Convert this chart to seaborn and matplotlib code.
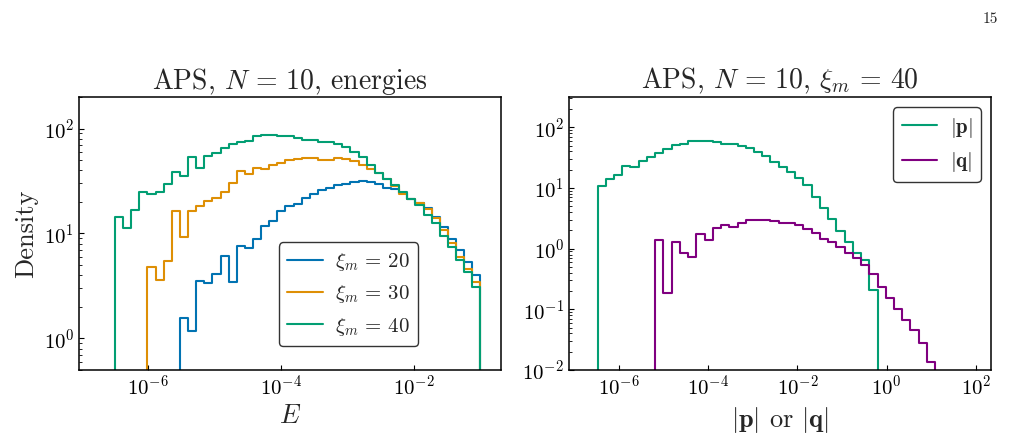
import numpy as np
import pandas as pd
import matplotlib
matplotlib.use("Agg")
import matplotlib.pyplot as plt
import seaborn as sns
from matplotlib.ticker import NullLocator, LogLocator

# ---------------- data ----------------
# Left panel: energy histograms, shared log10 bins
E_LOG_START = -6.49
E_LOG_WIDTH = 0.122
E_NBINS = 45

xi20_first = 8
xi20 = [1.56, 1.18, 3.54, 3.36, 4.1, 6.12, 3.46, 7.62, 7.24, 8.83, 11.7, 13.1,
        16.3, 18.1, 19.0, 22.0, 23.7, 26.0, 27.4, 28.8, 29.9, 31.0, 31.5, 31.0,
        29.9, 27.4, 26.4, 24.2, 21.5, 19.5, 17.5, 14.5, 11.5, 8.8, 7.0, 5.4, 4.0]

xi30_first = 4
xi30 = [4.75, 3.59, 5.41, 16.3, 9.29, 16.3, 18.3, 20.5, 22.0, 24.9, 30.6, 39.5,
        37.0, 41.9, 41.6, 45.4, 46.7, 49.9, 51.4, 52.1, 52.0, 50.7, 50.7, 52.0,
        51.0, 48.8, 45.4, 41.0, 37.5, 32.9, 28.4, 24.0, 21.2, 19.4, 17.3, 13.9,
        10.8, 8.1, 6.0, 4.57, 3.46]

xi40_first = 0
xi40 = [14.5, 11.2, 16.7, 25.1, 23.7, 25.1, 29.5, 38.4, 35.4, 54.1, 41.9, 54.8,
        59.0, 64.9, 71.9, 74.5, 76.9, 85.8, 87.7, 86.9, 85.1, 84.5, 81.3, 78.0,
        78.0, 75.0, 74.0, 71.0, 66.0, 60.0, 53.0, 45.0, 38.0, 33.0, 29.0, 25.0,
        21.5, 18.5, 15.0, 12.5, 9.5, 7.4, 5.6, 4.3, 3.06]

energy_labels = [r"$\xi_m \,=\, 20$", r"$\xi_m \,=\, 30$", r"$\xi_m \,=\, 40$"]

# Right panel: |p| and |q| histograms, shared log10 bins
P_LOG_START = -6.48
P_LOG_WIDTH = 0.1846
P_NBINS = 41

p_first = 0
p_vals = [10.7, 14.3, 16.5, 22.8, 22.0, 28.3, 32.1, 38.4, 44.7, 51.3, 54.0, 60.4,
          60.4, 58.9, 56.6, 54.0, 52.5, 50.0, 45.2, 39.4, 33.4, 27.3, 22.5, 18.3,
          14.7, 11.0, 7.2, 4.72, 3.03, 1.95, 1.28, 0.86, 0.64, 0.208]

q_first = 7
q_vals = [1.39, 0.184, 1.30, 0.86, 0.73, 1.72, 1.39, 2.16, 2.42, 2.27, 2.61, 2.95,
          2.95, 2.95, 2.84, 2.68, 2.61, 2.42, 2.08, 1.79, 1.46, 1.28, 1.06, 0.86,
          0.71, 0.54, 0.378, 0.237, 0.152, 0.100, 0.067, 0.046, 0.028, 0.0133]

pq_labels = [r"$|\mathbf{p}|$", r"$|\mathbf{q}|$"]

left_title = r"APS, $N \,=\, 10$, energies"
right_title = r"APS, $N \,=\, 10$, $\xi_m \,=\, 40$"

left_xticks = [1e-6, 1e-4, 1e-2]
right_xticks = [1e-6, 1e-4, 1e-2, 1e0, 1e2]

# ---------------- style ----------------
sns.set_style("ticks")
plt.rcParams.update({
    "font.family": ["cmr10", "DejaVu Serif"],
    "mathtext.fontset": "cm",
    "axes.formatter.use_mathtext": True,
    "axes.edgecolor": "black",
    "axes.linewidth": 1.1,
    "xtick.direction": "in",
    "ytick.direction": "in",
    "xtick.major.size": 3.5,
    "ytick.major.size": 3.5,
    "xtick.minor.size": 2,
    "ytick.minor.size": 2,
    "xtick.color": "black",
    "ytick.color": "black",
    "xtick.labelsize": 15,
    "ytick.labelsize": 15,
})

cb = sns.color_palette("colorblind")
c_blue, c_orange, c_green = cb[0], cb[1], cb[2]
c_purple = "purple"


def draw(ax, first, values, log_start, log_width, nbins, color, label):
    idx = np.arange(first, first + len(values))
    centers = 10 ** (log_start + log_width * (idx + 0.5))
    edges_log = (log_start + log_width * np.arange(-1, nbins + 2)).tolist()
    df = pd.DataFrame({"x": centers, "w": values})
    sns.histplot(data=df, x="x", weights="w", bins=edges_log, element="step",
                 fill=False, log_scale=True, color=color, linewidth=1.5,
                 label=label, ax=ax)


fig = plt.figure(figsize=(10.13, 4.44), dpi=100)
axL = fig.add_axes([0.0780, 0.1667, 0.4166, 0.6149])
axR = fig.add_axes([0.5617, 0.1667, 0.4166, 0.6149])

# Left panel
for first, vals, col, lab in [(xi20_first, xi20, c_blue, energy_labels[0]),
                              (xi30_first, xi30, c_orange, energy_labels[1]),
                              (xi40_first, xi40, c_green, energy_labels[2])]:
    draw(axL, first, vals, E_LOG_START, E_LOG_WIDTH, E_NBINS, col, lab)
axL.set_yscale("log")
axL.set_xlim(10 ** -7.03, 10 ** -0.69)
axL.set_ylim(0.5, 200)
axL.set_xticks(left_xticks)
axL.xaxis.set_minor_locator(NullLocator())
axL.set_xlabel(r"$E$", fontsize=19)
axL.set_ylabel("Density", fontsize=19)
axL.set_title(left_title, fontsize=20)
axL.legend(loc="lower right", bbox_to_anchor=(0.804, 0.088), borderaxespad=0,
           fontsize=15, handlelength=1.7, handletextpad=0.6,
           edgecolor="0.2", framealpha=1, fancybox=True)

# Right panel
for first, vals, col, lab in [(p_first, p_vals, c_green, pq_labels[0]),
                              (q_first, q_vals, c_purple, pq_labels[1])]:
    draw(axR, first, vals, P_LOG_START, P_LOG_WIDTH, P_NBINS, col, lab)
axR.set_yscale("log")
axR.set_xlim(10 ** -7.12, 10 ** 2.34)
axR.set_ylim(0.01, 10 ** 2.5)
axR.set_xticks(right_xticks)
axR.xaxis.set_minor_locator(NullLocator())
axR.yaxis.set_major_locator(LogLocator(base=10, numticks=20))
axR.yaxis.set_minor_locator(LogLocator(base=10, subs=np.arange(2, 10), numticks=20))
axR.set_xlabel(r"$|\mathbf{p}|$ or $|\mathbf{q}|$", fontsize=19)
axR.set_ylabel("")
axR.set_title(right_title, fontsize=20)
axR.legend(loc="upper right", fontsize=15, handlelength=1.7, handletextpad=0.6,
           edgecolor="0.2", framealpha=1, fancybox=True)

for ax in (axL, axR):
    ax.tick_params(which="both", direction="in", top=False, right=False)
    for s in ax.spines.values():
        s.set_visible(True)
        s.set_color("black")

fig.text(0.985, 0.958, "15", ha="right", va="center", fontsize=11)

fig.savefig("out.png", dpi=100)
